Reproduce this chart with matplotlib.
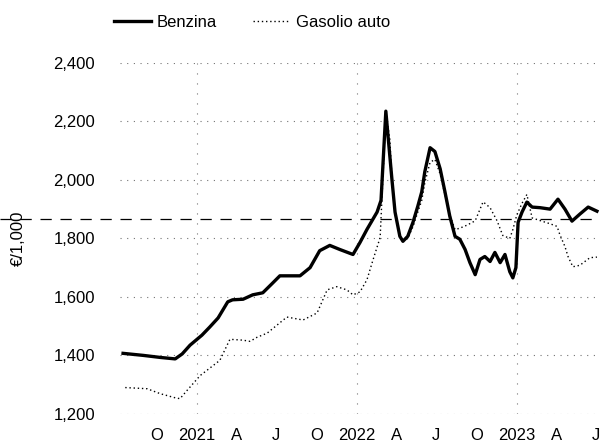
import numpy as np
import pandas as pd
import matplotlib
matplotlib.use("Agg")
import matplotlib.pyplot as plt
import matplotlib.transforms as mtransforms
from matplotlib.ticker import FuncFormatter

plt.rcParams['font.family'] = ['Liberation Sans', 'DejaVu Sans']

# Benzina (EUR per 1,000 litres)
benzina_dates = [
    "2020-07-16", "2020-08-31", "2020-10-09", "2020-11-12", "2020-11-28", "2020-12-16",
    "2021-01-12", "2021-01-30", "2021-02-18", "2021-03-12", "2021-03-23", "2021-04-16",
    "2021-05-08", "2021-05-31", "2021-06-21", "2021-07-09", "2021-08-24", "2021-09-16",
    "2021-10-08", "2021-10-31", "2021-11-23", "2021-12-23", "2022-01-08", "2022-01-24",
    "2022-02-16", "2022-02-25", "2022-03-08", "2022-03-13", "2022-03-22", "2022-03-29",
    "2022-04-09", "2022-04-16", "2022-04-27", "2022-05-09", "2022-05-20", "2022-05-29",
    "2022-06-05", "2022-06-17", "2022-06-28", "2022-07-10", "2022-07-21", "2022-08-01",
    "2022-08-13", "2022-08-24", "2022-09-05", "2022-09-16", "2022-09-28", "2022-10-09",
    "2022-10-20", "2022-11-01", "2022-11-12", "2022-11-24", "2022-12-05", "2022-12-16",
    "2022-12-23", "2022-12-30", "2023-01-04", "2023-01-13", "2023-01-24", "2023-02-05",
    "2023-02-23", "2023-03-18", "2023-04-05", "2023-04-21", "2023-05-07", "2023-05-25",
    "2023-06-13", "2023-07-03",
]
benzina = [
    1407, 1400, 1393, 1388, 1405, 1435,
    1469, 1497, 1528, 1583, 1590, 1592,
    1607, 1614, 1645, 1672, 1672, 1700,
    1758, 1776, 1762, 1745, 1786, 1831,
    1890, 1930, 2235, 2150, 2000, 1890,
    1807, 1790, 1807, 1855, 1910, 1959,
    2028, 2110, 2097, 2038, 1959, 1876,
    1807, 1797, 1762, 1717, 1676, 1728,
    1738, 1721, 1752, 1717, 1745, 1686,
    1665, 1700, 1855, 1890, 1924, 1907,
    1905, 1900, 1934, 1900, 1859, 1883,
    1907, 1893,
]

# Gasolio auto
gasolio_dates = [
    "2020-07-21", "2020-09-09", "2020-10-09", "2020-11-12", "2020-11-23", "2020-12-09",
    "2021-01-08", "2021-02-22", "2021-03-17", "2021-04-16", "2021-05-02", "2021-05-18",
    "2021-06-10", "2021-07-25", "2021-08-31", "2021-10-02", "2021-10-25", "2021-11-16",
    "2021-12-09", "2021-12-23", "2022-01-08", "2022-01-24", "2022-02-07", "2022-02-23",
    "2022-03-08", "2022-03-13", "2022-03-17", "2022-03-22", "2022-03-29", "2022-04-09",
    "2022-04-16", "2022-04-27", "2022-05-09", "2022-05-20", "2022-05-29", "2022-06-05",
    "2022-06-17", "2022-06-28", "2022-07-10", "2022-07-21", "2022-08-01", "2022-08-13",
    "2022-08-24", "2022-09-09", "2022-09-28", "2022-10-16", "2022-11-01", "2022-11-17",
    "2022-11-30", "2022-12-16", "2022-12-23", "2023-01-01", "2023-01-13", "2023-01-24",
    "2023-02-05", "2023-02-27", "2023-03-18", "2023-04-03", "2023-04-09", "2023-04-21",
    "2023-04-28", "2023-05-09", "2023-05-25", "2023-06-17", "2023-07-03",
]
gasolio = [
    1290, 1286, 1269, 1255, 1252, 1280,
    1331, 1383, 1455, 1452, 1448, 1462,
    1476, 1531, 1521, 1545, 1624, 1635,
    1624, 1607, 1617, 1659, 1728, 1803,
    2225, 2180, 2141, 2003, 1890, 1807,
    1790, 1800, 1840, 1890, 1930, 1990,
    2060, 2070, 2020, 1950, 1880, 1830,
    1835, 1845, 1860, 1925, 1905, 1860,
    1810, 1800, 1830, 1880, 1920, 1950,
    1870, 1859, 1850, 1841, 1814, 1772,
    1738, 1703, 1708, 1734, 1736,
]

ref_level = 1865
tick_dates = pd.date_range("2020-10-01", "2023-07-01", freq="QS")
tick_labels = ["O", "2021", "A", "J", "O", "2022", "A", "J", "O", "2023", "A", "J"]
year_lines = ["2021-01-01", "2022-01-01", "2023-01-01"]
y_ticks = [1200, 1400, 1600, 1800, 2000, 2200, 2400]

fig = plt.figure(figsize=(6, 4.46), dpi=100)
ax = fig.add_axes([0.2, 0.072, 0.8, 0.787])

# grid
for v in y_ticks:
    ax.axhline(v, color="0.45", lw=0.8, ls=(0, (1, 5)), zorder=1)
for d in year_lines:
    ax.axvline(pd.Timestamp(d), color="0.45", lw=0.8, ls=(0, (1, 8)), zorder=1)

ax.plot(pd.to_datetime(gasolio_dates), gasolio, color="black", lw=1.0,
        ls=(0, (1, 2)), label="Gasolio auto", zorder=3)
ax.plot(pd.to_datetime(benzina_dates), benzina, color="black", lw=2.4,
        label="Benzina", zorder=4)

# dashed reference line running across the whole figure
trans = mtransforms.blended_transform_factory(fig.transFigure, ax.transData)
ax.plot([0, 1], [ref_level, ref_level], transform=trans, color="black",
        lw=0.9, ls=(0, (9, 7)), clip_on=False, zorder=2)

ax.set_xlim(pd.Timestamp("2020-07-09"), pd.Timestamp("2023-07-10"))
ax.set_ylim(1200, 2400)
ax.set_xticks(tick_dates)
ax.set_xticklabels(tick_labels)
ax.set_yticks(y_ticks)
ax.yaxis.set_major_formatter(FuncFormatter(lambda v, p: f"{v:,.0f}"))
ax.tick_params(axis="both", length=0, labelsize=12)
ax.tick_params(axis="y", pad=18)
ax.tick_params(axis="x", pad=10)
for s in ax.spines.values():
    s.set_visible(False)

fig.text(0.03, 0.465, "€/1,000", rotation=90, ha="center", va="center", fontsize=12)

h, l = ax.get_legend_handles_labels()
fig.legend(h[::-1], l[::-1], loc="upper center", bbox_to_anchor=(0.42, 1.0),
           ncol=2, frameon=False, fontsize=12, handlelength=2.2,
           handletextpad=0.35, columnspacing=2.2)

fig.savefig("out.png", dpi=100)
